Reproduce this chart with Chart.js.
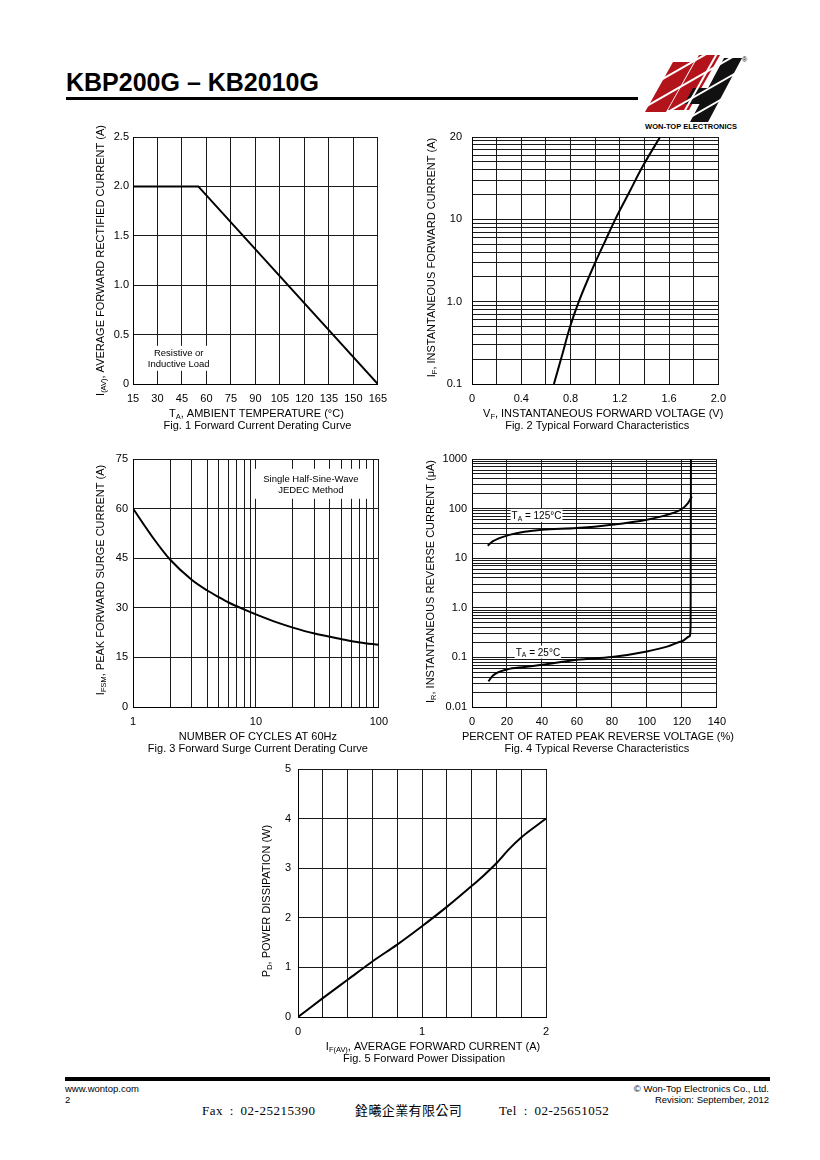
<!DOCTYPE html>
<html>
<head>
<meta charset="utf-8">
<title>KBP200G – KB2010G</title>
<script src="https://cdn.jsdelivr.net/npm/chart.js@4.4.1/dist/chart.umd.min.js"></script>
<style>
  html, body { margin: 0; padding: 0; background: #fff; }
  body { position: relative; width: 820px; height: 1160px; overflow: hidden; font-family: "Liberation Sans", Arial, sans-serif; color: #000; }
  .abs { position: absolute; white-space: nowrap; line-height: 1; }
  .rule { position: absolute; background: #000; }
  canvas { position: absolute; }
  .fax { position: absolute; white-space: pre; line-height: 1; font-family: "Liberation Serif", serif; font-size: 13px; letter-spacing: 0.5px; word-spacing: 3px; top: 1104px; }
</style>
</head>
<body>

<div class="abs" style="left:66px;top:70px;font-weight:bold;font-size:25px;">KBP200G – KB2010G</div>
<div class="rule" style="left:66px;top:97px;width:572px;height:3px;"></div>

<svg class="abs" style="left:640px;top:48px" width="112" height="84" viewBox="640 48 112 84">
  <polygon fill="#b3141b" points="645,112 666,112 694,62 673,62"/>
  <polygon fill="#b3141b" points="668,110 689,110 720,55 699,55"/>
  <polygon fill="#111" points="690,122 708,122 742,58 724,58"/>
  <polygon fill="#111" points="684,104 702,104 711,88 693,88"/>
  <g stroke="#fff" stroke-width="2">
    <line x1="640" y1="92" x2="750" y2="29"/>
    <line x1="640" y1="110" x2="750" y2="47"/>
    <line x1="640" y1="128" x2="750" y2="65"/>
    <line x1="640" y1="146" x2="750" y2="83"/>
    <line x1="684" y1="112" x2="728" y2="34"/>
  </g>
  <text x="742" y="62" font-size="7" font-family="Liberation Sans, Arial">®</text>
  <text x="691" y="129" font-size="7.5" font-weight="bold" text-anchor="middle" font-family="Liberation Sans, Arial">WON-TOP ELECTRONICS</text>
</svg>

<canvas id="fig1"></canvas>
<canvas id="fig2"></canvas>
<canvas id="fig3"></canvas>
<canvas id="fig4"></canvas>
<canvas id="fig5"></canvas>

<div class="rule" style="left:65px;top:1077px;width:705px;height:4px;"></div>
<div class="abs" style="left:65px;top:1084px;font-size:9.5px;">www.wontop.com</div>
<div class="abs" style="left:65px;top:1095px;font-size:9.5px;">2</div>
<div class="abs" style="right:51px;top:1084px;font-size:9.5px;">© Won-Top Electronics Co., Ltd.</div>
<div class="abs" style="right:51px;top:1095px;font-size:9.5px;">Revision: September, 2012</div>
<div class="fax" style="left:202px;">Fax : 02-25215390</div>
<div class="fax" style="left:355px;top:1103px;font-family:'Noto Sans CJK TC',sans-serif;font-size:13px;letter-spacing:0.4px;word-spacing:0;">銓曦企業有限公司</div>
<div class="fax" style="left:499px;">Tel : 02-25651052</div>

<script>
// Fig. 1 Forward Current Derating Curve
const fig1Temp = [15, 55, 165];
const fig1Current = [2.0, 2.0, 0];
const fig1XGrid = [15, 30, 45, 60, 75, 90, 105, 120, 135, 150, 165];
const fig1XLabels = ["15", "30", "45", "60", "75", "90", "105", "120", "135", "150", "165"];
const fig1YGrid = [0, 0.5, 1.0, 1.5, 2.0, 2.5];
const fig1YLabels = ["0", "0.5", "1.0", "1.5", "2.0", "2.5"];

// Fig. 2 Typical Forward Characteristics (top decade line is printed as "20" on the sheet)
const fig2Voltage = [0.665, 0.73, 0.794, 0.867, 0.99, 1.08, 1.163, 1.28, 1.386, 1.527];
const fig2Current = [0.1, 0.22, 0.485, 1.0, 2.76, 5.4, 10, 21.8, 44, 100];
const fig2XGrid = [0, 0.2, 0.4, 0.6, 0.8, 1.0, 1.2, 1.4, 1.6, 1.8, 2.0];
const fig2XTicks = [0, 0.4, 0.8, 1.2, 1.6, 2.0];
const fig2XLabels = ["0", "0.4", "0.8", "1.2", "1.6", "2.0"];
const fig2YDecades = [0.1, 1, 10];
const fig2YTicks = [0.1, 1, 10, 100];
const fig2YLabels = ["0.1", "1.0", "10", "20"];

// Fig. 3 Forward Surge Current Derating Curve
const fig3Cycles = [1, 1.5, 2, 3, 4, 5, 6, 8, 10, 15, 20, 30, 50, 70, 100];
const fig3Surge = [60, 50.5, 44.6, 38.5, 35.3, 33.2, 31.6, 29.5, 28, 25.5, 24, 22.2, 20.5, 19.5, 18.8];
const fig3XDecades = [1, 10];
const fig3XTicks = [1, 10, 100];
const fig3XLabels = ["1", "10", "100"];
const fig3YGrid = [0, 15, 30, 45, 60, 75];
const fig3YLabels = ["0", "15", "30", "45", "60", "75"];

// Fig. 4 Typical Reverse Characteristics
const fig4Pct125 = [9, 12, 20, 30, 40, 60, 80, 100, 112, 120, 123.5, 125.7];
const fig4Ir125 = [17.9, 22, 28.5, 34, 37.6, 40.6, 47.4, 59.8, 75.5, 98, 129, 176];
const fig4Pct25 = [9.4, 12, 20, 30, 40, 60, 80, 100, 112, 120, 124.4, 125.0, 125.2];
const fig4Ir25 = [0.033, 0.043, 0.057, 0.064, 0.071, 0.09, 0.102, 0.132, 0.167, 0.211, 0.266, 0.42, 1000];
const fig4XGrid = [0, 20, 40, 60, 80, 100, 120, 140];
const fig4XLabels = ["0", "20", "40", "60", "80", "100", "120", "140"];
const fig4YDecades = [0.01, 0.1, 1, 10, 100];
const fig4YTicks = [0.01, 0.1, 1, 10, 100, 1000];
const fig4YLabels = ["0.01", "0.1", "1.0", "10", "100", "1000"];

// Fig. 5 Forward Power Dissipation
const fig5Current = [0, 0.2, 0.4, 0.6, 0.8, 1.0, 1.2, 1.4, 1.5, 1.6, 1.7, 1.8, 2.0];
const fig5Power = [0, 0.38, 0.75, 1.12, 1.46, 1.83, 2.22, 2.64, 2.86, 3.1, 3.38, 3.62, 4.0];
const fig5XGrid = [0, 0.2, 0.4, 0.6, 0.8, 1.0, 1.2, 1.4, 1.6, 1.8, 2.0];
const fig5XTicks = [0, 1, 2];
const fig5XLabels = ["0", "1", "2"];
const fig5YGrid = [0, 1, 2, 3, 4, 5];
const fig5YLabels = ["0", "1", "2", "3", "4", "5"];

Chart.defaults.font.family = "'Liberation Sans', Arial, sans-serif";
Chart.defaults.font.size = 11;
Chart.defaults.color = "#000";
Chart.defaults.animation = false;

const PAD_L = 60, PAD_T = 25, PAD_R = 15, PAD_B = 55;

const plotBoxes = {
    fig1: { l: 133, t: 137, r: 380, b: 384 },
    fig2: { l: 472, t: 137, r: 719, b: 384 },
    fig3: { l: 133, t: 459, r: 381, b: 707 },
    fig4: { l: 472, t: 459, r: 719, b: 707 },
    fig5: { l: 298, t: 769, r: 546, b: 1017 }
};

const sheetText = {
    fig1: {
        yTitle: [["I"], ["(AV)", 1], [", AVERAGE FORWARD RECTIFIED CURRENT (A)"]], yOff: 33, yShift: 0,
        xTitle: [["T"], ["A", 1], [", AMBIENT TEMPERATURE (°C)"]], xShift: 1,
        caption: "Fig. 1 Forward Current Derating Curve", capShift: 2,
        notes: [{ x: 43, y: 0.26, align: "center", size: 9.5, gap: 10.5, padX: 3, padY: 2, lines: [[["Resistive or"]], [["Inductive Load"]]] }]
    },
    fig2: {
        yTitle: [["I"], ["F", 1], [", INSTANTANEOUS FORWARD CURRENT (A)"]], yOff: 41, yShift: -3,
        xTitle: [["V"], ["F", 1], [", INSTANTANEOUS FORWARD VOLTAGE (V)"]], xShift: 8,
        caption: "Fig. 2 Typical Forward Characteristics", capShift: 2,
        notes: []
    },
    fig3: {
        yTitle: [["I"], ["FSM", 1], [", PEAK FORWARD SURGE CURRENT (A)"]], yOff: 33, yShift: -3,
        xTitle: [["NUMBER OF CYCLES AT 60Hz"]], xShift: 2,
        caption: "Fig. 3 Forward Surge Current Derating Curve", capShift: 2,
        notes: [{ x: 28, y: 67.5, align: "center", size: 9.5, gap: 11, padX: 9, padY: 4, lines: [[["Single Half-Sine-Wave"]], [["JEDEC Method"]]] }]
    },
    fig4: {
        yTitle: [["I"], ["R", 1], [", INSTANTANEOUS REVERSE CURRENT (μA)"]], yOff: 42, yShift: -1.5,
        xTitle: [["PERCENT OF RATED PEAK REVERSE VOLTAGE (%)"]], xShift: 3.5,
        caption: "Fig. 4 Typical Reverse Characteristics", capShift: 2.5,
        notes: [
            { x: 22.6, y: 73, align: "left", size: 10, gap: 11, padX: 1, padY: 1, lines: [[["T"], ["A", 1], [" = 125°C"]]] },
            { x: 25, y: 0.128, align: "left", size: 10, gap: 11, padX: 1, padY: 1, lines: [[["T"], ["A", 1], [" = 25°C"]]] }
        ]
    },
    fig5: {
        yTitle: [["P"], ["D", 1], [", POWER DISSIPATION (W)"]], yOff: 32, yShift: 8,
        xTitle: [["I"], ["F(AV)", 1], [", AVERAGE FORWARD CURRENT (A)"]], xShift: 11,
        caption: "Fig. 5 Forward Power Dissipation", capShift: 2,
        notes: []
    }
};

function fontOf(size) {
    return `${size}px 'Liberation Sans', Arial, sans-serif`;
}

function richWidth(ctx, parts, size) {
    let w = 0;
    parts.forEach(([t, sub]) => {
        ctx.font = fontOf(sub ? size * 0.68 : size);
        w += ctx.measureText(t).width;
    });
    return w;
}

// y is the middle of the capital letters
function drawRich(ctx, parts, size, x, y, align, angle) {
    const w = richWidth(ctx, parts, size);
    ctx.save();
    ctx.translate(x, y);
    ctx.rotate(angle || 0);
    let cx = align === "left" ? 0 : -w / 2;
    ctx.fillStyle = "#000";
    ctx.textAlign = "left";
    ctx.textBaseline = "alphabetic";
    parts.forEach(([t, sub]) => {
        ctx.font = fontOf(sub ? size * 0.68 : size);
        ctx.fillText(t, cx, size * 0.36 + (sub ? size * 0.18 : 0));
        cx += ctx.measureText(t).width;
    });
    ctx.restore();
}

const sheetPlugin = {
    id: "sheet",
    beforeDatasetsDraw(chart) {
        const spec = sheetText[chart.canvas.id];
        const ctx = chart.ctx;
        spec.notes.forEach(n => {
            const px = chart.scales.x.getPixelForValue(n.x);
            const py = chart.scales.y.getPixelForValue(n.y);
            const w = Math.max(...n.lines.map(l => richWidth(ctx, l, n.size)));
            const h = n.lines.length * n.gap;
            const left = n.align === "left" ? px : px - w / 2;
            ctx.save();
            ctx.fillStyle = "#fff";
            ctx.fillRect(left - n.padX, py - h / 2 - n.padY, w + 2 * n.padX, h + 2 * n.padY);
            ctx.restore();
            n.lines.forEach((l, i) => drawRich(ctx, l, n.size, px, py - h / 2 + n.gap * (i + 0.5), n.align, 0));
        });
    },
    afterDraw(chart) {
        const spec = sheetText[chart.canvas.id];
        const a = chart.chartArea;
        const ctx = chart.ctx;
        const midX = (a.left + a.right) / 2;
        drawRich(ctx, spec.yTitle, 11, a.left - spec.yOff, (a.top + a.bottom) / 2 + spec.yShift, "center", -Math.PI / 2);
        drawRich(ctx, spec.xTitle, 11, midX + spec.xShift, a.bottom + 29, "center", 0);
        drawRich(ctx, [[spec.caption]], 11, midX + spec.capShift, a.bottom + 41, "center", 0);
    }
};

function labelFrom(values, texts) {
    return function (value) {
        const i = values.findIndex(v => Math.abs(v - value) <= Math.abs(v) * 1e-6 + 1e-9);
        return i >= 0 ? texts[i] : "";
    };
}

function logGrid(decades) {
    const lines = [];
    decades.forEach(d => {
        for (let k = 1; k <= 9; k++) lines.push(Number((d * k).toPrecision(6)));
    });
    lines.push(Number((decades[decades.length - 1] * 10).toPrecision(6)));
    return lines;
}

function axis(type, min, max, grid, tickValues, tickLabels, pad, isX) {
    return {
        type: type,
        min: min,
        max: max,
        afterBuildTicks: scale => { scale.ticks = grid.map(v => ({ value: v })); },
        afterFit: scale => {
            if (isX) scale.height = PAD_B;
            else scale.width = PAD_L;
        },
        grid: { color: "#1a1a1a", lineWidth: 1, drawTicks: false },
        border: { display: true, color: "#000", width: 1 },
        ticks: {
            autoSkip: false,
            maxRotation: 0,
            minRotation: 0,
            padding: pad,
            font: { size: 11 },
            callback: labelFrom(tickValues, tickLabels)
        }
    };
}

function curve(xs, ys, tension) {
    return {
        data: xs.map((x, i) => ({ x: x, y: ys[i] })),
        borderColor: "#000",
        borderWidth: 2,
        pointRadius: 0,
        fill: false,
        tension: tension,
        cubicInterpolationMode: tension ? "monotone" : "default"
    };
}

function buildChart(id, datasets, xScale, yScale) {
    const box = plotBoxes[id];
    const canvas = document.getElementById(id);
    const w = box.r - box.l + PAD_L + PAD_R;
    const h = box.b - box.t + PAD_T + PAD_B;
    canvas.width = w;
    canvas.height = h;
    canvas.style.width = w + "px";
    canvas.style.height = h + "px";
    canvas.style.left = (box.l - PAD_L) + "px";
    canvas.style.top = (box.t - PAD_T) + "px";

    return new Chart(canvas, {
        type: "line",
        data: { datasets: datasets },
        options: {
            responsive: false,
            maintainAspectRatio: false,
            devicePixelRatio: 1,
            animation: false,
            layout: { padding: { left: 0, top: PAD_T, right: PAD_R, bottom: 0 } },
            plugins: { legend: { display: false }, tooltip: { enabled: false } },
            scales: { x: xScale, y: yScale }
        },
        plugins: [sheetPlugin]
    });
}

buildChart("fig1",
    [curve(fig1Temp, fig1Current, 0)],
    axis("linear", 15, 165, fig1XGrid, fig1XGrid, fig1XLabels, 8, true),
    axis("linear", 0, 2.5, fig1YGrid, fig1YGrid, fig1YLabels, 4, false));

buildChart("fig2",
    [curve(fig2Voltage, fig2Current, 0.3)],
    axis("linear", 0, 2.0, fig2XGrid, fig2XTicks, fig2XLabels, 8, true),
    axis("logarithmic", 0.1, 100, logGrid(fig2YDecades), fig2YTicks, fig2YLabels, 10, false));

buildChart("fig3",
    [curve(fig3Cycles, fig3Surge, 0.3)],
    axis("logarithmic", 1, 100, logGrid(fig3XDecades), fig3XTicks, fig3XLabels, 8, true),
    axis("linear", 0, 75, fig3YGrid, fig3YGrid, fig3YLabels, 5, false));

buildChart("fig4",
    [curve(fig4Pct125, fig4Ir125, 0.3), curve(fig4Pct25, fig4Ir25, 0.3)],
    axis("linear", 0, 140, fig4XGrid, fig4XGrid, fig4XLabels, 8, true),
    axis("logarithmic", 0.01, 1000, logGrid(fig4YDecades), fig4YTicks, fig4YLabels, 5, false));

buildChart("fig5",
    [curve(fig5Current, fig5Power, 0.3)],
    axis("linear", 0, 2, fig5XGrid, fig5XTicks, fig5XLabels, 8, true),
    axis("linear", 0, 5, fig5YGrid, fig5YGrid, fig5YLabels, 7, false));
</script>
</body>
</html>
